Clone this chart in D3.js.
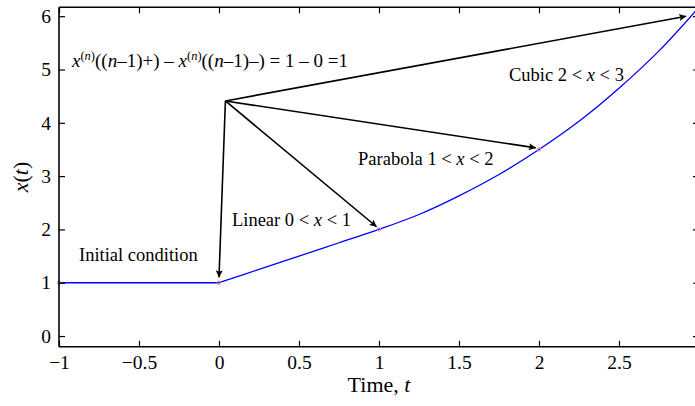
<!DOCTYPE html>
<html><head><meta charset="utf-8">
<script src="https://cdn.jsdelivr.net/npm/d3@7"></script>
<style>
html,body{margin:0;padding:0;background:#fff;}
svg{display:block;font-family:"Liberation Serif","Times New Roman",serif;}
</style></head>
<body>
<svg id="c" width="695" height="406"></svg>
<script>
// ---- data ----
const xTicks = [-1, -0.5, 0, 0.5, 1, 1.5, 2, 2.5, 3];
const xTickLabels = ["\u22121", "\u22120.5", "0", "0.5", "1", "1.5", "2", "2.5", "3"];
const yTicks = [0, 1, 2, 3, 4, 5, 6];
const yTickLabels = ["0", "1", "2", "3", "4", "5", "6"];
// initial condition (history) segment
const tInit = [-1, 0];
const xInit = [1, 1];
// solution values
const tSol = [0, 0.25, 0.5, 0.75, 1, 1.25, 1.5, 1.75, 2, 2.25, 2.5, 2.75, 3];
const xSol = [1, 1.25, 1.5, 1.75, 2, 2.28, 2.63, 3.03, 3.5, 4.03, 4.65, 5.35, 6.17];
// breakpoints (markers)
const tBreak = [-1, 0, 1, 2, 3];
const xBreak = [1, 1, 2, 3.5, 6.17];
// arrows: common origin and targets
const arrowFrom = [0.04, 4.41];
const arrowTo = [[0.0, 1.1], [0.985, 2.05], [1.98, 3.53], [2.92, 6.0]];
// annotation labels
const labelText = ["Initial condition", "Linear 0 < x < 1", "Parabola 1 < x < 2", "Cubic 2 < x < 3"];
const labelPos = [[-0.875, 1.41], [0.081, 2.07], [0.869, 3.21], [1.8125, 4.78]];

// ---- layout ----
const svg = d3.select("#c");
const x = d3.scaleLinear().domain([-1, 3]).range([59, 699]);
const y = d3.scaleLinear().domain([-0.2, 6.1667]).range([346.7, 7.3]);
const X0 = x.range()[0], X1 = x.range()[1], Y0 = y.range()[0], Y1 = y.range()[1];

svg.append("defs").append("marker")
  .attr("id", "ah").attr("viewBox", "0 0 10 10").attr("refX", 10).attr("refY", 5)
  .attr("markerWidth", 11).attr("markerHeight", 7).attr("markerUnits", "userSpaceOnUse")
  .attr("orient", "auto")
  .append("path").attr("d", "M0,0 L10,5 L0,10 L2,5 Z").attr("fill", "#000");

// curves
const line = d3.line().x(d => x(d[0])).y(d => y(d[1]));
svg.append("path").datum(tInit.map((t, i) => [t, xInit[i]]))
  .attr("d", line).attr("fill", "none").attr("stroke", "#0000ff").attr("stroke-width", 1.3);
svg.append("path").datum(tSol.map((t, i) => [t, xSol[i]]))
  .attr("d", line.curve(d3.curveCatmullRom)).attr("fill", "none").attr("stroke", "#0000ff").attr("stroke-width", 1.3);

svg.selectAll("circle.bp").data(tBreak.map((t, i) => [t, xBreak[i]])).enter()
  .append("circle").attr("class", "bp")
  .attr("cx", d => x(d[0])).attr("cy", d => y(d[1])).attr("r", 1.8)
  .attr("fill", "none").attr("stroke", "#ff7f9f").attr("stroke-width", 1);

// arrows
svg.selectAll("line.arr").data(arrowTo).enter().append("line").attr("class", "arr")
  .attr("x1", x(arrowFrom[0])).attr("y1", y(arrowFrom[1]))
  .attr("x2", d => x(d[0])).attr("y2", d => y(d[1]))
  .attr("stroke", "#000").attr("stroke-width", 1.6).attr("marker-end", "url(#ah)");

// axes box
const gx = svg.append("g").attr("transform", `translate(0,${Y0})`)
  .call(d3.axisBottom(x).tickValues(xTicks).tickFormat((d, i) => xTickLabels[i]).tickSizeInner(-6).tickSizeOuter(0).tickPadding(8));
const gxt = svg.append("g").attr("transform", `translate(0,${Y1})`)
  .call(d3.axisTop(x).tickValues(xTicks).tickFormat("").tickSizeInner(-6).tickSizeOuter(0));
const gy = svg.append("g").attr("transform", `translate(${X0},0)`)
  .call(d3.axisLeft(y).tickValues(yTicks).tickFormat((d, i) => yTickLabels[i]).tickSizeInner(-6).tickSizeOuter(0).tickPadding(8));
const gyr = svg.append("g").attr("transform", `translate(${X1},0)`)
  .call(d3.axisRight(y).tickValues(yTicks).tickFormat("").tickSizeInner(-6).tickSizeOuter(0));
[gx, gxt, gy, gyr].forEach(g => {
  g.select(".domain").attr("stroke", "#000").attr("stroke-width", 1.6);
  g.selectAll(".tick line").attr("stroke", "#000").attr("stroke-width", 1.2);
  g.selectAll("text").attr("fill", "#000").style("font-family", '"Liberation Serif",serif').style("font-size", "19.5px");
});
gx.select(".domain").attr("d", `M${X0},0H${X1}`);
gxt.select(".domain").attr("d", `M${X0},0H${X1}`);
gy.select(".domain").attr("d", `M0,${Y0}V${Y1}`);
gyr.select(".domain").attr("d", `M0,${Y0}V${Y1}`);

// axis labels
svg.append("text").attr("x", 379).attr("y", 392).attr("text-anchor", "middle")
  .style("font-size", "22px").html('Time, <tspan font-style="italic">t</tspan>');
svg.append("text").attr("transform", "translate(28,177) rotate(-90)").attr("text-anchor", "middle")
  .style("font-size", "22px").html('<tspan font-style="italic">x</tspan>(<tspan font-style="italic">t</tspan>)');

// annotation labels
labelText.forEach((s, i) => {
  const t = svg.append("text").attr("x", x(labelPos[i][0])).attr("y", y(labelPos[i][1])).style("font-size", "18.5px");
  const parts = s.split(" x ");
  if (parts.length === 2) {
    t.append("tspan").text(parts[0] + " ");
    t.append("tspan").attr("font-style", "italic").text("x");
    t.append("tspan").text(" " + parts[1]);
  } else t.text(s);
});

// formula
const f = svg.append("text").attr("x", x(-0.919)).attr("y", y(5.05)).style("font-size", "19px");
const it = s => f.append("tspan").attr("font-style", "italic").text(s);
const rm = s => f.append("tspan").text(s);
const sup = () => { f.append("tspan").attr("font-size", "12.5px").attr("dy", -7).text("(");
  f.append("tspan").attr("font-size", "12.5px").attr("font-style", "italic").text("n");
  f.append("tspan").attr("font-size", "12.5px").text(")"); };
const down = s => f.append("tspan").attr("dy", 7).text(s);
it("x"); sup(); down("(("); it("n"); rm("\u20131)+) \u2013 "); it("x"); sup(); down("(("); it("n"); rm("\u20131)\u2013) = 1 \u2013 0 =1");
</script>
</body></html>
